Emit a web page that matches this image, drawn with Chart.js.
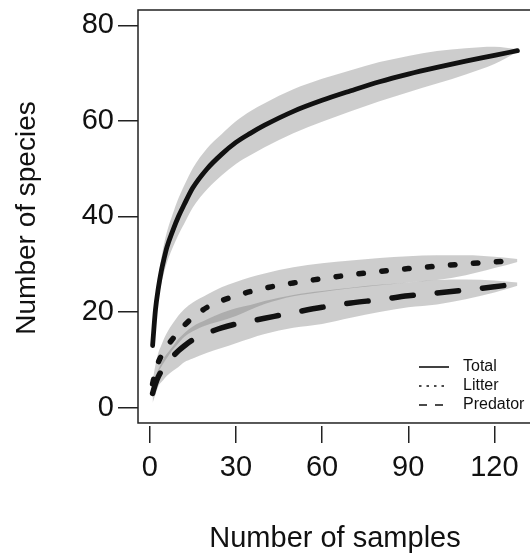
<!DOCTYPE html>
<html>
<head>
<meta charset="utf-8">
<script src="https://cdn.jsdelivr.net/npm/chart.js@4"></script>
<style>
  html, body { margin: 0; padding: 0; background: #fff; overflow: hidden; }
  #wrap { width: 530px; height: 560px; overflow: hidden; }
</style>
</head>
<body>
<div id="wrap"><canvas id="rarefaction" width="545" height="560"></canvas></div>
<script>
// Species accumulation (rarefaction) curves with confidence bands
const SAMPLES = [1, 2, 3, 4, 5, 6, 8, 10, 12, 15, 20, 25, 30, 35, 40, 50, 60, 70, 80, 90, 100, 110, 120, 128];

const TOTAL       = [13, 20.5, 25, 28.5, 31.2, 33.6, 37, 40, 42.5, 46, 50, 53, 55.5, 57.4, 59.1, 62, 64.3, 66.3, 68.2, 69.8, 71.2, 72.5, 73.7, 74.7];
const TOTAL_UP    = [13.5, 22, 27.2, 31.1, 34.3, 36.8, 40.5, 43.8, 46.5, 50.1, 54.3, 57.2, 59.9, 62, 63.7, 66.6, 68.8, 70.6, 72.3, 73.6, 74.6, 75.2, 75.5, 75];
const TOTAL_LO    = [12.5, 19, 22.8, 25.9, 28.3, 30.4, 33.5, 36.2, 38.5, 41.9, 45.7, 48.6, 51, 52.8, 54.5, 57.4, 59.8, 62, 64.1, 66, 67.8, 69.7, 71.9, 74.4];

const LITTER      = [5, 7.5, 9.5, 10.8, 11.8, 12.8, 14.4, 15.9, 17.2, 18.9, 21, 22.4, 23.4, 24.3, 25, 26.1, 27, 27.8, 28.5, 29.1, 29.6, 30.1, 30.5, 30.8];
const LITTER_UP   = [5.5, 9, 11.5, 13, 14.5, 15.7, 17.6, 19.3, 20.6, 22, 23.7, 25.2, 26.3, 27.3, 28.1, 29.4, 30.2, 30.8, 31.3, 31.7, 31.9, 31.9, 31.6, 31.1];
const LITTER_LO   = [4.5, 6, 7.5, 8.5, 9.5, 10.4, 12.1, 13.5, 14.8, 16, 17.3, 18.2, 19.2, 20.5, 21.7, 23.3, 24.2, 25, 25.6, 26.2, 26.7, 27.7, 29.2, 30.5];

const PREDATOR    = [3, 5, 6.5, 7.6, 8.5, 9.3, 10.7, 11.9, 12.9, 14.2, 15.6, 16.7, 17.5, 18.1, 18.7, 19.9, 21, 21.9, 22.6, 23.4, 24, 24.6, 25.3, 25.9];
const PREDATOR_UP = [3.5, 6.5, 8, 9.3, 10.5, 11.3, 12.8, 14.4, 15.6, 17, 18.5, 19.8, 20.8, 21.5, 22.3, 23.6, 24.4, 25.1, 25.7, 26.2, 26.7, 26.8, 26.6, 26.2];
const PREDATOR_LO = [1, 2.8, 4.5, 5.3, 6, 6.7, 7.7, 8.5, 9.5, 10.3, 11.5, 12.5, 13.5, 14.5, 15.4, 16.7, 17.5, 18.8, 20, 21, 21.6, 22.7, 24.1, 25.5];

const X_TICKS = [0, 30, 60, 90, 120];
const Y_TICKS = [0, 20, 40, 60, 80];
const LEGEND_LABELS = ['Total', 'Litter', 'Predator'];

const FONT = "'Liberation Sans', Arial, Helvetica, sans-serif";
const BAND = 'rgba(120,120,120,0.37)';
const INK = '#111';

function pts(ys) {
  return SAMPLES.map((x, i) => ({ x: x, y: ys[i] }));
}

function band(up, lo) {
  return [
    { data: pts(up), borderWidth: 0, pointRadius: 0, fill: '+1', backgroundColor: BAND, order: 2, cubicInterpolationMode: 'monotone' },
    { data: pts(lo), borderWidth: 0, pointRadius: 0, fill: false, order: 2, cubicInterpolationMode: 'monotone' }
  ];
}

function curve(label, ys, dash, width) {
  return {
    label: label,
    data: pts(ys),
    borderColor: INK,
    borderWidth: width,
    borderDash: dash,
    borderCapStyle: 'round',
    pointRadius: 0,
    fill: false,
    order: 0,
    cubicInterpolationMode: 'monotone'
  };
}

// box round the plot + small legend in the lower right, like base R graphics
const frameAndLegend = {
  id: 'frameAndLegend',
  afterDraw(chart) {
    const ctx = chart.ctx;
    const ca = chart.chartArea;
    const bottom = chart.scales.y.getPixelForValue(-3.2);
    ctx.save();
    ctx.strokeStyle = '#222';
    ctx.lineWidth = 1.5;
    ctx.setLineDash([]);
    ctx.strokeRect(ca.left, ca.top, ca.right - ca.left, bottom - ca.top);

    const dashes = [[], [2.5, 5], [8, 8]];
    const rows = [367, 386, 405];
    ctx.font = '16px ' + FONT;
    ctx.fillStyle = '#111';
    ctx.textBaseline = 'middle';
    ctx.textAlign = 'left';
    LEGEND_LABELS.forEach((lab, i) => {
      ctx.beginPath();
      ctx.setLineDash(dashes[i]);
      ctx.lineWidth = 1.6;
      ctx.strokeStyle = '#111';
      ctx.moveTo(419, rows[i]);
      ctx.lineTo(449, rows[i]);
      ctx.stroke();
      ctx.fillText(lab, 463, rows[i]);
    });
    ctx.restore();
  }
};

Chart.defaults.font.family = FONT;
Chart.defaults.color = '#111';

new Chart(document.getElementById('rarefaction').getContext('2d'), {
  type: 'line',
  data: {
    datasets: [
      ...band(TOTAL_UP, TOTAL_LO),
      ...band(LITTER_UP, LITTER_LO),
      ...band(PREDATOR_UP, PREDATOR_LO),
      curve('Total', TOTAL, [], 4.8),
      curve('Litter', LITTER, [4.5, 18.5], 5.5),
      curve('Predator', PREDATOR, [21.5, 24], 5.5)
    ]
  },
  options: {
    responsive: false,
    animation: false,
    devicePixelRatio: 1,
    layout: { padding: { top: 10, right: 13, left: 0, bottom: 0 } },
    plugins: { legend: { display: false }, tooltip: { enabled: false } },
    scales: {
      x: {
        type: 'linear',
        min: -4.08,
        max: 133.08,
        afterBuildTicks: s => { s.ticks = X_TICKS.map(v => ({ value: v })); },
        afterFit: s => { s.height = 134; s.paddingLeft = 0; s.paddingRight = 0; },
        border: { display: false },
        grid: { drawOnChartArea: false, drawTicks: true, tickLength: 17, color: '#222', lineWidth: 1.5 },
        ticks: { font: { size: 29 }, color: '#111', padding: 8, maxRotation: 0 },
        title: { display: true, text: 'Number of samples', font: { size: 29 }, color: '#111', padding: { top: 0, bottom: 4 } }
      },
      y: {
        type: 'linear',
        min: -3.83,
        max: 83.2,
        afterBuildTicks: s => { s.ticks = Y_TICKS.map(v => ({ value: v })); },
        afterFit: s => { s.width = 138; s.paddingTop = 0; s.paddingBottom = 0; },
        border: { display: false },
        grid: { drawOnChartArea: false, drawTicks: true, tickLength: 20, color: '#222', lineWidth: 1.5 },
        ticks: { font: { size: 29 }, color: '#111', padding: 4 },
        title: { display: true, text: 'Number of species', font: { size: 28 }, color: '#111', padding: { top: 10, bottom: 0 } }
      }
    }
  },
  plugins: [frameAndLegend]
});
</script>
</body>
</html>
